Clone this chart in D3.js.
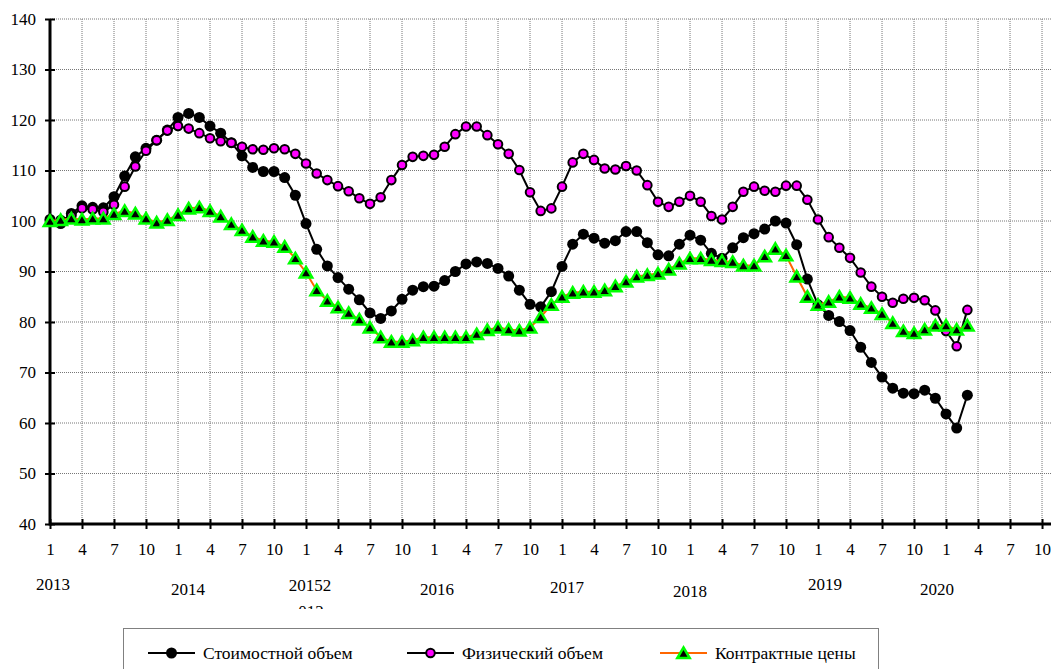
<!DOCTYPE html>
<html>
<head>
<meta charset="utf-8">
<script src="https://cdn.jsdelivr.net/npm/d3@7"></script>
<style>
  body { margin: 0; background: #fff; }
  svg { display: block; }
</style>
</head>
<body>
<svg id="chart" width="1051" height="669"></svg>
<script>
// DATA (month index 0 = Jan 2013 ... 86 = Mar 2020)
const valueVolume = [100.3, 99.5, 101.5, 103.0, 102.7, 102.6, 104.8, 108.9, 112.7, 114.4, 116.0, 118.0,
  120.5, 121.3, 120.5, 118.8, 117.4, 115.5, 112.9, 110.6, 109.8, 109.8, 108.6, 105.1,
  99.5, 94.4, 91.1, 88.8, 86.5, 84.4, 81.8, 80.7, 82.2, 84.5, 86.3, 87.0,
  87.1, 88.2, 90.0, 91.5, 91.9, 91.6, 90.6, 89.1, 86.3, 83.5, 83.0, 86.0,
  91.0, 95.4, 97.4, 96.6, 95.6, 96.1, 97.9, 97.9, 95.7, 93.3, 93.1, 95.4,
  97.2, 96.2, 93.6, 92.6, 94.7, 96.7, 97.5, 98.4, 100.0, 99.6, 95.3, 88.5,
  83.4, 81.3, 80.1, 78.3, 75.0, 72.0, 69.1, 66.9, 65.9, 65.8, 66.5, 64.9,
  61.8, 59.0, 65.5]
const physicalVolume = [100.0, 100.2, 101.0, 102.5, 102.3, 101.8, 103.2, 106.8, 110.8, 113.9, 116.0, 117.9,
  118.8, 118.3, 117.4, 116.4, 115.8, 115.5, 114.7, 114.2, 114.1, 114.4, 114.2, 113.3,
  111.4, 109.4, 108.1, 106.9, 105.9, 104.5, 103.4, 104.7, 108.1, 111.1, 112.7, 112.9,
  113.1, 114.7, 117.2, 118.7, 118.7, 117.0, 115.2, 113.3, 110.1, 105.7, 102.0, 102.5,
  106.8, 111.6, 113.3, 112.1, 110.4, 110.2, 110.9, 110.0, 107.1, 103.8, 102.8, 103.8,
  105.0, 103.8, 101.0, 100.3, 102.8, 105.8, 106.8, 106.0, 105.8, 107.0, 107.0, 104.2,
  100.3, 96.8, 94.7, 92.7, 89.8, 87.0, 85.0, 83.8, 84.6, 84.8, 84.3, 82.3,
  78.2, 75.2, 82.4]
const contractPrices = [100.0, 100.2, 100.5, 100.3, 100.5, 100.5, 101.4, 102.0, 101.5, 100.5, 99.7, 100.2,
  101.2, 102.5, 102.7, 102.0, 100.9, 99.4, 98.2, 96.9, 96.1, 95.9, 94.9, 92.6,
  89.8, 86.3, 84.2, 82.9, 81.8, 80.5, 78.9, 77.0, 76.1, 76.1, 76.4, 77.0,
  77.0, 77.0, 77.0, 77.0, 77.6, 78.4, 78.9, 78.5, 78.3, 78.9, 81.0, 83.4,
  85.0, 85.8, 86.0, 86.0, 86.3, 87.1, 88.0, 89.0, 89.3, 89.6, 90.4, 91.6,
  92.6, 92.6, 92.3, 92.1, 91.9, 91.2, 91.2, 93.0, 94.5, 93.2, 89.0, 85.0,
  83.4, 84.0, 85.0, 84.8, 83.6, 82.8, 81.6, 79.8, 78.2, 77.8, 78.5, 79.3,
  79.3, 78.5, 79.3]
const monthTicks = d3.range(0, 96, 3)
const monthLabels = [1, 4, 7, 10]
const yTicks = d3.range(40, 141, 10)
const yearLabels = [
  { text: "2013", x: 53, y: 590 },
  { text: "2014", x: 188, y: 595 },
  { text: "20152", x: 310, y: 591 },
  { text: "2016", x: 437, y: 595 },
  { text: "2017", x: 567, y: 593 },
  { text: "2018", x: 690, y: 597 },
  { text: "2019", x: 825, y: 590 },
  { text: "2020", x: 937, y: 595 }
]
const seriesNames = ["Стоимостной объем", "Физический объем", "Контрактные цены"]

// LAYOUT
const PLOT_LEFT = 50
const PLOT_TOP = 19
const PLOT_BOTTOM = 524
const MONTH_STEP = 10.667
const FONT = "'Liberation Serif', 'Times New Roman', Times, 'DejaVu Serif', serif"

const x = d3.scaleLinear().domain([0, 95]).range([PLOT_LEFT, PLOT_LEFT + 95 * MONTH_STEP])
const y = d3.scaleLinear().domain([40, 140]).range([PLOT_BOTTOM, PLOT_TOP])

const svg = d3.select("#chart")

// grid
const grid = svg.append("g")
grid.selectAll("line.h")
  .data(yTicks.filter(d => d > 40))
  .join("line")
  .attr("x1", PLOT_LEFT).attr("x2", 1051)
  .attr("y1", d => y(d)).attr("y2", d => y(d))
  .attr("stroke", "#777").attr("stroke-width", 1).attr("stroke-dasharray", "1,1")
grid.selectAll("line.v")
  .data(monthTicks.filter(d => d > 0))
  .join("line")
  .attr("x1", d => x(d)).attr("x2", d => x(d))
  .attr("y1", PLOT_TOP).attr("y2", PLOT_BOTTOM)
  .attr("stroke", "#777").attr("stroke-width", 1).attr("stroke-dasharray", "1,1")

// axes
const yAxis = svg.append("g").attr("transform", `translate(${PLOT_LEFT},0)`)
  .call(d3.axisLeft(y).tickValues(yTicks).tickSize(5).tickPadding(9))
  .attr("font-family", FONT).attr("font-size", 17)
yAxis.select(".domain").remove()
yAxis.selectAll(".tick line").attr("x2", 5).attr("x1", -5).attr("stroke-width", 2)
yAxis.selectAll(".tick text").attr("x", -14)
yAxis.append("line").attr("x1", 0).attr("x2", 0).attr("y1", PLOT_TOP).attr("y2", PLOT_BOTTOM + 1.5)
  .attr("stroke", "#000").attr("stroke-width", 3)

const xAxis = svg.append("g").attr("transform", `translate(0,${PLOT_BOTTOM})`)
  .call(d3.axisBottom(x).tickValues(monthTicks).tickFormat((d, i) => monthLabels[i % 4]).tickSize(5).tickPadding(14))
  .attr("font-family", FONT).attr("font-size", 17)
xAxis.select(".domain").remove()
xAxis.selectAll(".tick line").attr("y1", -5).attr("y2", 5).attr("stroke-width", 2)
xAxis.append("line").attr("x1", PLOT_LEFT).attr("x2", 1051).attr("y1", 0).attr("y2", 0)
  .attr("stroke", "#000").attr("stroke-width", 3)

// series
const line = d3.line().x((d, i) => x(i)).y(d => y(d))

svg.append("path").datum(valueVolume).attr("d", line)
  .attr("fill", "none").attr("stroke", "#000").attr("stroke-width", 2)
svg.append("g").selectAll("circle").data(valueVolume).join("circle")
  .attr("cx", (d, i) => x(i)).attr("cy", d => y(d)).attr("r", 5.5)
  .attr("fill", "#000")

svg.append("path").datum(physicalVolume).attr("d", line)
  .attr("fill", "none").attr("stroke", "#000").attr("stroke-width", 2)
svg.append("g").selectAll("circle").data(physicalVolume).join("circle")
  .attr("cx", (d, i) => x(i)).attr("cy", d => y(d)).attr("r", 4.3)
  .attr("fill", "#ff00ff").attr("stroke", "#000").attr("stroke-width", 2)

const TRIANGLE = "M0,-5.5L6.2,5L-6.2,5Z"
svg.append("path").datum(contractPrices).attr("d", line)
  .attr("fill", "none").attr("stroke", "#ff6600").attr("stroke-width", 2)
svg.append("g").selectAll("path").data(contractPrices).join("path")
  .attr("d", TRIANGLE)
  .attr("transform", (d, i) => `translate(${x(i)},${y(d)})`)
  .attr("fill", "#000").attr("stroke", "#00ff00").attr("stroke-width", 2.5)

// year labels
svg.append("defs").append("clipPath").attr("id", "yearClip")
  .append("rect").attr("x", 0).attr("y", 0).attr("width", 1051).attr("height", 609)
const years = svg.append("g").attr("clip-path", "url(#yearClip)")
  .attr("font-family", FONT).attr("font-size", 17)
years.selectAll("text").data(yearLabels).join("text")
  .attr("x", d => d.x).attr("y", d => d.y)
  .attr("text-anchor", "middle")
  .text(d => d.text)
years.append("text")
  .attr("x", 311).attr("y", 617).attr("text-anchor", "middle")
  .text("012")

// legend
const legend = svg.append("g").attr("font-family", FONT).attr("font-size", 17.5)
legend.append("rect").attr("x", 123.5).attr("y", 628.5).attr("width", 755).attr("height", 60)
  .attr("fill", "#fff").attr("stroke", "#808080").attr("stroke-width", 1)
const legendX = [148, 407, 660]
const legendColors = ["#000", "#000", "#ff6600"]
seriesNames.forEach((name, k) => {
  const g = legend.append("g").attr("transform", `translate(${legendX[k]},653)`)
  g.append("line").attr("x1", 0).attr("x2", 47).attr("stroke", legendColors[k]).attr("stroke-width", 2)
  if (k === 0) g.append("circle").attr("cx", 23.5).attr("r", 5.5).attr("fill", "#000")
  if (k === 1) g.append("circle").attr("cx", 23.5).attr("r", 4.3).attr("fill", "#ff00ff").attr("stroke", "#000").attr("stroke-width", 2)
  if (k === 2) g.append("path").attr("d", TRIANGLE).attr("transform", "translate(23.5,0)")
    .attr("fill", "#000").attr("stroke", "#00ff00").attr("stroke-width", 2.5)
  g.append("text").attr("x", 55).attr("y", 5.5).text(name)
})
</script>
</body>
</html>
